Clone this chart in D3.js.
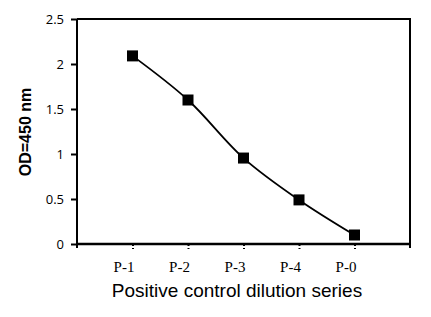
<!DOCTYPE html>
<html>
<head>
<meta charset="utf-8">
<script src="https://cdn.jsdelivr.net/npm/d3@7"></script>
<style>
  body { margin: 0; background: #fff; }
</style>
</head>
<body>
<div id="chart"></div>
<script>
// categories and OD readings
const categories = ["P-1", "P-2", "P-3", "P-4", "P-0"];
const odValues = [2.09, 1.6, 0.955, 0.49, 0.1];
const yTicks = [0, 0.5, 1, 1.5, 2, 2.5];

const W = 431, H = 317;
const margin = {top: 19, right: 21, bottom: 73, left: 77};
const width = W - margin.left - margin.right,
      height = H - margin.top - margin.bottom;

const svg = d3.select("#chart")
  .append("svg")
  .attr("width", W)
  .attr("height", H);

const g = svg.append("g")
  .attr("transform", `translate(${margin.left}, ${margin.top})`);

// x: categories sit at 1..5 of a 0..6 range
const x = d3.scaleLinear()
  .domain([0, categories.length + 1])
  .range([0, width]);

const y = d3.scaleLinear()
  .domain([0, 2.5])
  .range([height, 0]);

// frame top + right
g.append("path")
  .attr("d", `M0,${y(2.5)}H${width}V${height + 4}`)
  .attr("fill", "none")
  .attr("stroke", "#000")
  .attr("stroke-width", 2);

// y axis
const yAxis = g.append("g")
  .call(d3.axisLeft(y).tickValues(yTicks).tickSize(6).tickPadding(7)
    .tickFormat(d => d3.format("")(d)));
yAxis.select(".domain").attr("stroke-width", 2).attr("d", `M0,${height + 4}V${y(2.5)}`);
yAxis.selectAll(".tick line").attr("stroke-width", 2);
yAxis.selectAll(".tick text")
  .attr("font-family", "'Open Sans', 'Liberation Sans', sans-serif")
  .attr("font-size", 13)
  .attr("fill", "#000");

// x axis
const xAxis = g.append("g")
  .attr("transform", `translate(0, ${height})`)
  .call(d3.axisBottom(x).tickValues(d3.range(1, categories.length + 1)).tickSize(5).tickPadding(12)
    .tickFormat(d => categories[d - 1]));
xAxis.select(".domain").attr("stroke-width", 2.5).attr("d", `M0,0H${width}`);
xAxis.selectAll(".tick line")
  .attr("stroke-width", 2)
  .attr("stroke-dasharray", "2,2");
xAxis.selectAll(".tick text")
  .attr("font-family", "'Liberation Serif', 'Times New Roman', serif")
  .attr("font-size", 15)
  .attr("dx", -9)
  .attr("fill", "#000");

// smoothed line
const line = d3.line()
  .x((d, i) => x(i + 1))
  .y(d => y(d))
  .curve(d3.curveCatmullRom.alpha(0.5));

g.append("path")
  .datum(odValues)
  .attr("d", line)
  .attr("fill", "none")
  .attr("stroke", "#000")
  .attr("stroke-width", 1.8);

// square markers
const ms = 11;
g.append("g")
  .selectAll("rect")
  .data(odValues)
  .enter()
  .append("rect")
    .attr("x", (d, i) => x(i + 1) - ms / 2)
    .attr("y", d => y(d) - ms / 2)
    .attr("width", ms)
    .attr("height", ms)
    .attr("fill", "#000");

// axis titles
svg.append("text")
  .attr("x", 237)
  .attr("y", 297)
  .attr("text-anchor", "middle")
  .attr("font-family", "'Liberation Sans', Arial, sans-serif")
  .attr("font-size", 19)
  .attr("fill", "#000")
  .text("Positive control dilution series");

svg.append("text")
  .attr("transform", "translate(31, 132) rotate(-90)")
  .attr("text-anchor", "middle")
  .attr("font-family", "'Liberation Sans', Arial, sans-serif")
  .attr("font-weight", "bold")
  .attr("font-size", 16)
  .attr("fill", "#000")
  .text("OD=450 nm");
</script>
</body>
</html>
